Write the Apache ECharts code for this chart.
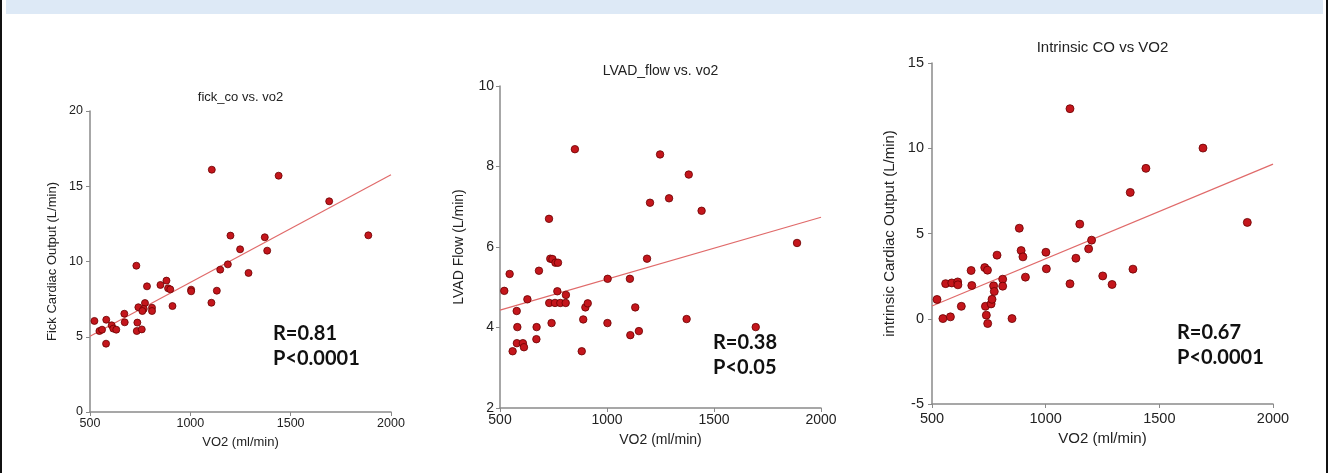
<!DOCTYPE html>
<html>
<head>
<meta charset="utf-8">
<script src="https://cdn.jsdelivr.net/npm/echarts@6/dist/echarts.min.js"></script>
<style>
  html, body { margin: 0; padding: 0; background: #fff; }
  #wrap { position: relative; width: 1330px; height: 473px; overflow: hidden; }
  #band { position: absolute; left: 6px; top: 0; width: 1317px; height: 14px; background: #dde9f6; }
  #lineL { position: absolute; left: 0; top: 0; width: 2px; height: 473px; background: #111; }
  #lineR { position: absolute; left: 1326px; top: 0; width: 2px; height: 473px; background: #111; }
  #chart { position: absolute; left: 0; top: 0; width: 1330px; height: 473px; }
</style>
</head>
<body>
<div id="wrap">
  <div id="band"></div>
  <div id="lineL"></div>
  <div id="lineR"></div>
  <div id="chart"></div>
</div>
<script>
// data: [VO2 ml/min, value]
var fickCo = [
  [522, 6.05], [547, 5.38], [560, 5.47], [581, 6.13], [580, 4.54], [608, 5.76],
  [616, 5.54], [631, 5.47], [671, 6.53], [673, 5.96], [731, 9.72], [736, 5.94],
  [733, 5.38], [741, 6.96], [758, 5.49], [774, 7.24], [768, 6.85], [761, 6.71],
  [784, 8.35], [809, 6.93], [809, 6.71], [851, 8.44], [881, 8.73], [889, 8.22],
  [900, 8.15], [911, 7.04], [1004, 8.13], [1004, 8.02], [1107, 16.1], [1105, 7.26],
  [1132, 8.06], [1149, 9.46], [1187, 9.81], [1200, 11.72], [1248, 10.81], [1290, 9.24],
  [1371, 11.61], [1383, 10.72], [1440, 15.7], [1692, 14.0], [1887, 11.74]
]
var lvadFlow = [
  [520, 4.91], [545, 5.33], [559, 3.41], [578, 4.41], [581, 4.01], [579, 3.61],
  [607, 3.61], [612, 3.51], [628, 4.70], [671, 4.01], [670, 3.71], [682, 5.41],
  [729, 6.70], [735, 5.71], [745, 5.70], [730, 4.61], [741, 4.11], [759, 5.61],
  [771, 5.61], [757, 4.61], [768, 4.90], [782, 4.61], [807, 4.61], [808, 4.81],
  [850, 8.43], [882, 3.41], [889, 4.20], [899, 4.50], [910, 4.60], [1003, 5.21],
  [1002, 4.11], [1107, 5.21], [1109, 3.81], [1132, 4.50], [1149, 3.91], [1187, 5.71],
  [1201, 7.10], [1248, 8.30], [1290, 7.21], [1372, 4.21], [1382, 7.80], [1442, 6.90],
  [1695, 4.01], [1888, 6.10]
]
var intrinsicCo = [
  [522, 1.13], [548, 0.01], [560, 2.06], [581, 0.11], [587, 2.10], [613, 2.16],
  [614, 1.99], [629, 0.73], [672, 2.83], [675, 1.95], [732, 3.00], [744, 2.85],
  [735, 0.73], [739, 0.21], [745, -0.28], [760, 0.87], [764, 1.14], [771, 1.93],
  [774, 1.60], [786, 3.73], [811, 2.32], [811, 1.91], [852, 0.01], [884, 5.31],
  [892, 4.00], [900, 3.63], [911, 2.44], [1001, 3.90], [1003, 2.93], [1107, 12.32],
  [1107, 2.05], [1133, 3.55], [1150, 5.55], [1189, 4.10], [1202, 4.61], [1251, 2.51],
  [1292, 2.01], [1372, 7.41], [1384, 2.91], [1441, 8.82], [1692, 10.01], [1887, 5.65]
]
// fitted lines, endpoints
var fickFit = [[500, 5.03], [2000, 15.77]]
var lvadFit = [[500, 4.43], [2000, 6.74]]
var intrinsicFit = [[500, 0.75], [2000, 9.07]]

var xTicks = [500, 2000, 500]   // min, max, interval
var titles = ['fick_co vs. vo2', 'LVAD_flow vs. vo2', 'Intrinsic CO vs VO2']
var yNames = ['Fick Cardiac Output (L/min)', 'LVAD Flow (L/min)', 'intrinsic Cardiac Output (L/min)']
var yRanges = [[0, 20, 5], [2, 10, 2], [-5, 15, 5]]
var stats = [['R=0.81', 'P<0.0001'], ['R=0.38', 'P<0.05'], ['R=0.67', 'P<0.0001']]

var points = [fickCo, lvadFlow, intrinsicCo]
var fits = [fickFit, lvadFit, intrinsicFit]

// layout of each panel in px (the three panels were pasted at slightly different scales)
var panels = [
  { left: 90, top: 111, width: 301, height: 301, titleY: 99, titleSize: 13, tickSize: 12.5, nameSize: 13,
    yGap: 31, xGap: 24, xMargin: 5, yMargin: 7, dot: 7, stat: [273, 321] },
  { left: 500, top: 86, width: 321, height: 322, titleY: 73, titleSize: 14, tickSize: 14, nameSize: 14,
    yGap: 34, xGap: 25, xMargin: 5, yMargin: 6, dot: 7.5, stat: [713, 330] },
  { left: 932, top: 63, width: 341, height: 341, titleY: 49, titleSize: 15, tickSize: 14.5, nameSize: 15,
    yGap: 35, xGap: 27, xMargin: 7, yMargin: 8, dot: 8, stat: [1177, 320] }
]

var font = 'Liberation Sans, Arial, sans-serif'
var axisGrey = '#8a8a8a'

var chart = echarts.init(document.getElementById('chart'))

var option = {
  animation: false,
  title: [],
  grid: [],
  xAxis: [],
  yAxis: [],
  series: []
}

function plain (v) {
  return String(v)
}

panels.forEach(function (g, i) {
  option.grid.push({ left: g.left, top: g.top, width: g.width, height: g.height, containLabel: false })
  option.title.push({
    text: titles[i],
    left: g.left + g.width / 2,
    top: g.titleY - g.titleSize * 0.6,
    padding: 0,
    textAlign: 'center',
    textStyle: { fontFamily: font, fontSize: g.titleSize, fontWeight: 'normal', color: '#222' }
  })
  option.title.push({
    text: stats[i][0] + '\n' + stats[i][1],
    left: g.stat[0],
    top: g.stat[1],
    padding: 0,
    textStyle: { fontFamily: 'Lato, sans-serif', fontSize: 20, fontWeight: 'bold', color: '#111', lineHeight: 25 }
  })
  option.xAxis.push({
    type: 'value',
    gridIndex: i,
    min: xTicks[0],
    max: xTicks[1],
    interval: xTicks[2],
    name: 'VO2 (ml/min)',
    nameLocation: 'middle',
    nameGap: g.xGap,
    nameTextStyle: { fontFamily: font, fontSize: g.nameSize, color: '#222' },
    axisLine: { onZero: false, lineStyle: { color: axisGrey, width: 1.5 } },
    axisTick: { show: true, length: 4, lineStyle: { color: axisGrey } },
    axisLabel: { fontFamily: font, fontSize: g.tickSize, color: '#222', margin: g.xMargin, formatter: plain },
    splitLine: { show: false }
  })
  option.yAxis.push({
    type: 'value',
    gridIndex: i,
    min: yRanges[i][0],
    max: yRanges[i][1],
    interval: yRanges[i][2],
    name: yNames[i],
    nameLocation: 'middle',
    nameGap: g.yGap,
    nameTextStyle: { fontFamily: font, fontSize: g.nameSize, color: '#222' },
    axisLine: { show: true, onZero: false, lineStyle: { color: axisGrey, width: 1.5 } },
    axisTick: { show: true, length: 4, lineStyle: { color: axisGrey } },
    axisLabel: { fontFamily: font, fontSize: g.tickSize, color: '#222', margin: g.yMargin, formatter: plain },
    splitLine: { show: false }
  })
  option.series.push({
    type: 'line',
    xAxisIndex: i,
    yAxisIndex: i,
    data: fits[i],
    symbol: 'none',
    lineStyle: { color: '#e06a6a', width: 1.2 },
    z: 2
  })
  option.series.push({
    type: 'scatter',
    xAxisIndex: i,
    yAxisIndex: i,
    data: points[i],
    symbolSize: g.dot,
    itemStyle: { color: '#c4161c', borderColor: '#6a0000', borderWidth: 0.8, opacity: 1 },
    z: 3
  })
})

chart.setOption(option)
window.addEventListener('resize', function () {
  chart.resize()
})
</script>
</body>
</html>
